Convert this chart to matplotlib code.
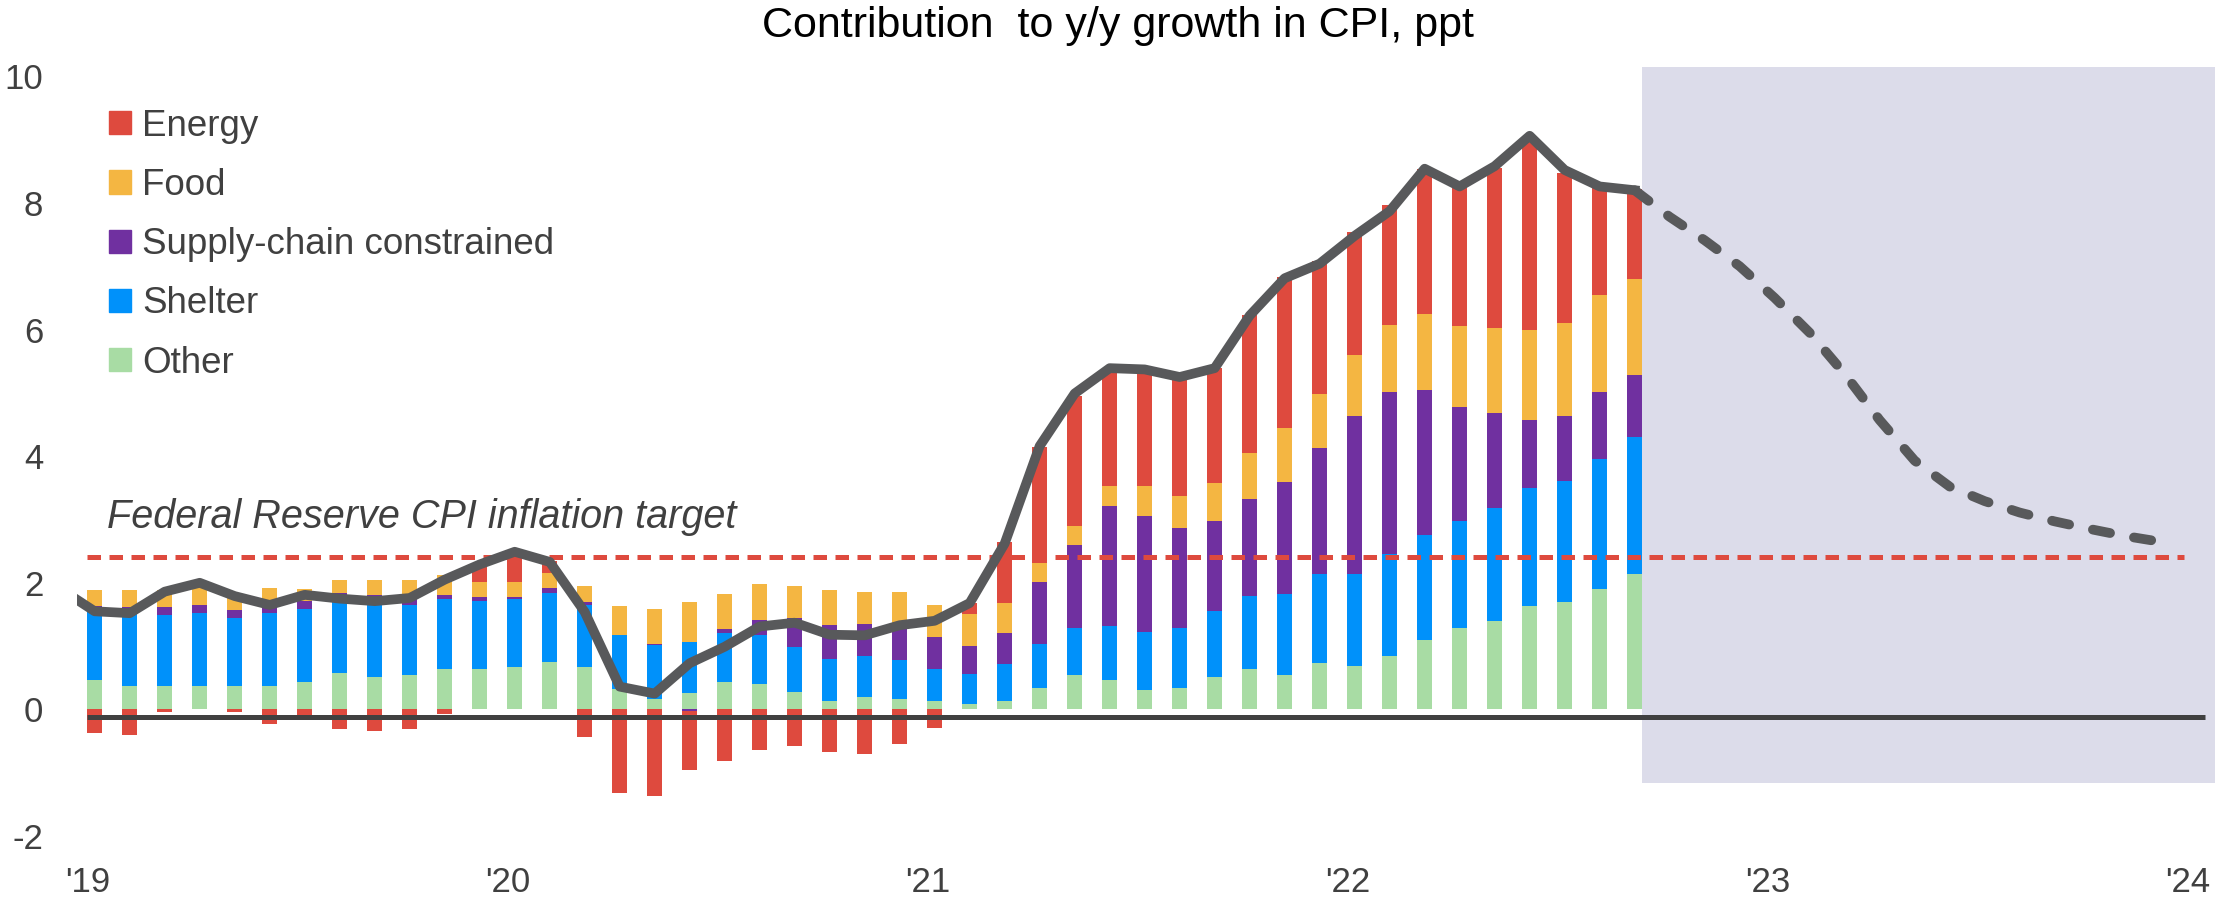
import numpy as np
import matplotlib.pyplot as plt
from matplotlib.patches import Patch

plt.rcParams['font.family'] = ['Liberation Sans', 'DejaVu Sans']
plt.rcParams['axes.unicode_minus'] = False

# months since Jan 2019 (0 = Jan 2019, 44 = Sep 2022)
months = np.arange(45)

# contributions to y/y CPI growth, ppt
other = [0.47, 0.37, 0.37, 0.37, 0.37, 0.37, 0.43, 0.57, 0.51, 0.54, 0.64, 0.64,
         0.67, 0.75, 0.67, 0.33, 0.17, 0.26, 0.43, 0.40, 0.27, 0.13, 0.20, 0.16,
         0.13, 0.09, 0.13, 0.34, 0.54, 0.47, 0.31, 0.34, 0.51, 0.64, 0.54, 0.74,
         0.69, 0.85, 1.09, 1.29, 1.39, 1.63, 1.70, 1.90, 2.14]
shelter = [1.09, 1.19, 1.12, 1.15, 1.08, 1.15, 1.15, 1.12, 1.17, 1.11, 1.11, 1.08,
           1.07, 1.09, 0.98, 0.84, 0.84, 0.81, 0.78, 0.77, 0.71, 0.67, 0.64, 0.62,
           0.51, 0.47, 0.58, 0.70, 0.74, 0.84, 0.91, 0.94, 1.05, 1.15, 1.29, 1.40,
           1.45, 1.60, 1.66, 1.69, 1.79, 1.87, 1.90, 2.06, 2.16]
supply = [0.08, 0.05, 0.12, 0.13, 0.12, 0.10, 0.14, 0.15, 0.12, 0.15, 0.06, 0.06,
          0.04, 0.07, 0.04, 0.00, 0.03, -0.03, 0.06, 0.24, 0.46, 0.54, 0.51, 0.53,
          0.51, 0.44, 0.50, 0.97, 1.31, 1.91, 1.84, 1.58, 1.41, 1.54, 1.76, 1.99,
          2.50, 2.57, 2.30, 1.79, 1.50, 1.07, 1.04, 1.06, 0.98]
food = [0.24, 0.28, 0.28, 0.30, 0.25, 0.29, 0.18, 0.21, 0.24, 0.24, 0.31, 0.24,
        0.24, 0.24, 0.26, 0.47, 0.54, 0.62, 0.55, 0.57, 0.51, 0.54, 0.51, 0.55,
        0.50, 0.51, 0.47, 0.31, 0.31, 0.31, 0.47, 0.51, 0.61, 0.72, 0.86, 0.85,
        0.95, 1.05, 1.19, 1.29, 1.35, 1.43, 1.46, 1.52, 1.52]
energy = [-0.37, -0.41, -0.04, 0.05, -0.04, -0.23, -0.09, -0.31, -0.34, -0.31, -0.07, 0.25,
          0.47, 0.20, -0.44, -1.32, -1.36, -0.92, -0.82, -0.64, -0.57, -0.68, -0.71, -0.54,
          -0.30, 0.17, 0.97, 1.83, 2.05, 1.80, 1.80, 1.83, 1.82, 2.18, 2.38, 2.10,
          1.95, 1.89, 2.30, 2.20, 2.52, 3.02, 2.38, 1.72, 1.42]

# headline CPI y/y, Dec 2018 .. Sep 2022
cpi_months = np.arange(-1, 45)
cpi = [1.91, 1.55, 1.52, 1.86, 2.00, 1.79, 1.65, 1.81, 1.75, 1.71, 1.76, 2.05, 2.29,
       2.49, 2.33, 1.54, 0.36, 0.25, 0.73, 0.99, 1.31, 1.37, 1.18, 1.17, 1.33,
       1.40, 1.68, 2.62, 4.16, 4.99, 5.39, 5.37, 5.25, 5.39, 6.22, 6.81, 7.04,
       7.48, 7.87, 8.54, 8.26, 8.58, 9.06, 8.52, 8.26, 8.20]

# forecast path, Sep 2022 .. Dec 2023
fc_months = np.arange(44, 60)
forecast = [8.20, 7.78, 7.41, 7.00, 6.50, 5.95, 5.30, 4.57, 3.93, 3.52, 3.29, 3.11,
            2.97, 2.85, 2.74, 2.65]

target = 2.4
year_labels = ["'19", "'20", "'21", "'22", "'23", "'24"]

series = [('Other', other, '#A8DCA4'),
          ('Shelter', shelter, '#0091FA'),
          ('Supply-chain constrained', supply, '#7030A0'),
          ('Food', food, '#F4B642'),
          ('Energy', energy, '#DE4A3E')]

fig = plt.figure(figsize=(22.29, 9.05), dpi=100)
ax = fig.add_axes([0.03464, 0.0552, 0.9625, 0.8815])

# forecast shading
ax.fill_between([44.22, 60.57], -1.16, 10.15, color='#DCDCEA', lw=0, zorder=0)

pos = np.zeros(len(months))
neg = np.zeros(len(months))
for name, vals, col in series:
    v = np.array(vals)
    bottom = np.where(v >= 0, pos, neg)
    ax.bar(months, v, width=0.42, bottom=bottom, color=col, lw=0, zorder=2)
    pos = pos + np.where(v >= 0, v, 0)
    neg = neg + np.where(v < 0, v, 0)

ax.hlines(-0.12, -0.22, 60.3, color='#404040', lw=3.6, zorder=3)
ax.hlines(target, -0.22, 59.7, color='#DE4A3E', lw=3.6, linestyles=(0, (2.7, 1.7)), zorder=3)

ax.plot(cpi_months, cpi, color='#58595B', lw=7, solid_joinstyle='round', zorder=4)
ax.plot(fc_months, forecast, color='#58595B', lw=7, dashes=(1.8, 2.5),
        dash_capstyle='round', zorder=4)

ax.text(0.35, 2.86, 'Federal Reserve CPI inflation target', fontsize=28.5,
        style='italic', color='#404040', va='baseline', ha='left', zorder=5)

ax.set_xlim(-0.5, 60.8)
ax.set_ylim(-2.3, 10.3)
ax.set_yticks(range(-2, 11, 2))
ax.set_xticks(np.arange(0, 61, 12) - 0.19)
ax.set_xticklabels(year_labels)
ax.tick_params(axis='both', length=0, labelsize=25, labelcolor='#404040')
ax.tick_params(axis='y', pad=24.5)
ax.tick_params(axis='x', pad=8)
for s in ax.spines.values():
    s.set_visible(False)

handles = [Patch(color=c, label=n) for n, _, c in series[::-1]]
ax.legend(handles=handles, loc='upper left', bbox_to_anchor=(109 / 2229, 0.880),
          bbox_transform=fig.transFigure, frameon=False, borderpad=0, borderaxespad=0,
          handlelength=0.6, handleheight=0.6, handletextpad=0.3, labelspacing=0.66,
          fontsize=26.5, labelcolor='#404040')

fig.text(0.5016, 0.959, 'Contribution  to y/y growth in CPI, ppt', fontsize=31,
         ha='center', va='baseline', color='black')

fig.savefig('out.png', dpi=100)
